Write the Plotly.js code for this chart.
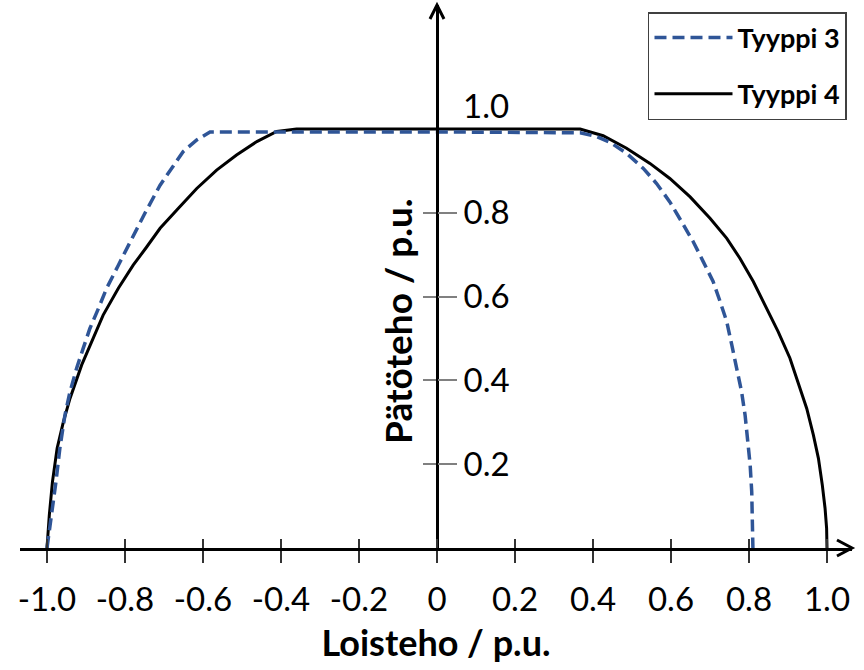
<!DOCTYPE html>
<html>
<head>
<meta charset="utf-8">
<script src="https://cdn.plot.ly/plotly-3.0.1.min.js"></script>
<style>html,body{margin:0;padding:0;background:#fff;}#chart{width:864px;height:670px;}</style>
</head>
<body>
<div id="chart"></div>
<script>
// Loisteho (reactive power, p.u.) and Pätöteho (active power, p.u.)
const type3Q = [-1.0, -0.988, -0.977, -0.967, -0.954, -0.941, -0.924, -0.907, -0.890, -0.868, -0.847, -0.817, -0.787, -0.749, -0.710, -0.680, -0.651, -0.616, -0.582,
                0.0, 0.315, 0.367, 0.409, 0.444, 0.486, 0.529, 0.563, 0.597, 0.627, 0.657, 0.683, 0.708, 0.726, 0.743, 0.756, 0.768, 0.781, 0.790, 0.797, 0.803, 0.807, 0.809, 0.81];
const type3P = [0, 0.079, 0.158, 0.238, 0.317, 0.373, 0.429, 0.477, 0.524, 0.572, 0.620, 0.675, 0.731, 0.799, 0.866, 0.906, 0.946, 0.974, 0.993,
                0.993, 0.993, 0.991, 0.982, 0.968, 0.942, 0.906, 0.870, 0.826, 0.779, 0.731, 0.683, 0.636, 0.588, 0.540, 0.484, 0.429, 0.373, 0.317, 0.258, 0.198, 0.134, 0.079, 0];
const type4Q = [-1.0, -0.994, -0.986, -0.974, -0.958, -0.941, -0.911, -0.885, -0.856, -0.817, -0.779, -0.744, -0.710, -0.663, -0.616, -0.565, -0.514, -0.462, -0.411, -0.36,
                0.0, 0.367, 0.426, 0.486, 0.546, 0.597, 0.649, 0.700, 0.743, 0.777, 0.811, 0.845, 0.875, 0.905, 0.926, 0.948, 0.965, 0.978, 0.988, 0.995, 0.999, 1.0];
const type4P = [0, 0.079, 0.158, 0.238, 0.301, 0.357, 0.437, 0.492, 0.556, 0.620, 0.675, 0.719, 0.763, 0.811, 0.858, 0.902, 0.938, 0.970, 0.994, 1.0,
                1.0, 1.0, 0.984, 0.954, 0.918, 0.882, 0.838, 0.787, 0.739, 0.691, 0.636, 0.572, 0.516, 0.453, 0.397, 0.333, 0.270, 0.214, 0.150, 0.095, 0.047, 0];
const seriesNames = ['Tyyppi 3', 'Tyyppi 4'];
const xTickVals = [-1.0, -0.8, -0.6, -0.4, -0.2, 0, 0.2, 0.4, 0.6, 0.8, 1.0];
const xTickText = ['-1.0', '-0.8', '-0.6', '-0.4', '-0.2', '0', '0.2', '0.4', '0.6', '0.8', '1.0'];
const yTickVals = [0.2, 0.4, 0.6, 0.8];
const yTickText = ['0.2', '0.4', '0.6', '0.8'];
const yTopLabel = '1.0';

const xMin = -1.0692, xMax = 1.0641, yMin = 0, yMax = 1.296;
const xZeroPaper = (0 - xMin) / (xMax - xMin);
const FONT = 'Lato, "Open Sans", sans-serif';

const traces = [
  {
    x: type3Q, y: type3P, name: seriesNames[0], legendgroup: 'a',
    xaxis: 'x2', yaxis: 'y2',
    type: 'scatter', mode: 'lines', cliponaxis: false,
    line: {color: '#2f5597', width: 3.5, dash: '12px,6px', shape: 'linear'}
  },
  {
    x: type4Q, y: type4P, name: seriesNames[1], legendgroup: 'b',
    type: 'scatter', mode: 'lines', cliponaxis: false,
    line: {color: '#000000', width: 3, shape: 'linear'}
  }
];

const layout = {
  width: 864, height: 670,
  margin: {l: 20, r: 12, t: 5, b: 122},
  paper_bgcolor: '#ffffff', plot_bgcolor: '#ffffff',
  showlegend: true,
  font: {family: FONT, color: '#000'},
  xaxis: {
    range: [xMin, xMax], showgrid: false, zeroline: false,
    showline: true, linecolor: '#000', linewidth: 3,
    ticks: 'outside', ticklen: 12, tickwidth: 2, tickcolor: '#333',
    tickvals: xTickVals, ticktext: xTickText, ticklabelstandoff: 8,
    tickfont: {family: FONT, size: 33, color: '#000'},
    title: {text: 'Loisteho / p.u.', font: {family: FONT, size: 36, color: '#000', weight: 'bold'}, standoff: 15},
    fixedrange: true
  },
  xaxis2: {
    overlaying: 'x', matches: 'x', range: [xMin, xMax], anchor: 'y2',
    showgrid: false, zeroline: false, showline: false,
    ticks: 'inside', ticklen: 9, tickwidth: 2, tickcolor: '#333',
    tickvals: xTickVals, showticklabels: false
  },
  yaxis: {
    range: [yMin, yMax], showgrid: false, zeroline: false,
    anchor: 'free', position: xZeroPaper, side: 'left',
    showline: true, linecolor: '#000', linewidth: 3,
    ticks: 'outside', ticklen: 13, tickwidth: 2, tickcolor: '#808080',
    tickvals: yTickVals, showticklabels: false,
    fixedrange: true
  },
  yaxis2: {
    overlaying: 'y', matches: 'y', range: [yMin, yMax],
    anchor: 'free', position: xZeroPaper, side: 'right',
    showgrid: false, zeroline: false, showline: false,
    ticks: 'outside', ticklen: 19, tickwidth: 2, tickcolor: '#808080',
    tickvals: yTickVals, ticktext: yTickText,
    tickfont: {family: FONT, size: 33, color: '#000'}
  },
  legend: {
    x: 0.7548, y: 0.987, xanchor: 'left', yanchor: 'top',
    bgcolor: '#ffffff', bordercolor: '#404040', borderwidth: 1.5,
    font: {family: FONT, size: 27, color: '#000', weight: 'bold'},
    traceorder: 'grouped', tracegroupgap: 18, itemwidth: 78,
    entrywidth: 190, entrywidthmode: 'pixels'
  },
  annotations: [
    {
      xref: 'x', yref: 'y', x: 0, y: 1.0, text: yTopLabel, showarrow: false,
      xanchor: 'left', yanchor: 'middle', xshift: 24, yshift: 24,
      font: {family: FONT, size: 33, color: '#000'}
    },
    {
      xref: 'paper', yref: 'paper', x: 0.453, y: 0.418, text: 'Pätöteho / p.u.',
      showarrow: false, textangle: -90, xanchor: 'center', yanchor: 'middle',
      font: {family: FONT, size: 37, color: '#000', weight: 'bold'}
    }
  ],
  shapes: [
    {
      type: 'path', xref: 'paper', yref: 'paper', xsizemode: 'pixel', ysizemode: 'pixel',
      xanchor: 1, yanchor: 0, path: 'M-15,8 L0,0 L-15,-8',
      line: {color: '#000', width: 3}
    },
    {
      type: 'path', xref: 'paper', yref: 'paper', xsizemode: 'pixel', ysizemode: 'pixel',
      xanchor: xZeroPaper, yanchor: 1, path: 'M-7,-14 L0,0 L7,-14',
      line: {color: '#000', width: 3}
    }
  ]
};

Plotly.newPlot('chart', traces, layout, {displayModeBar: false, staticPlot: true});
</script>
</body>
</html>
